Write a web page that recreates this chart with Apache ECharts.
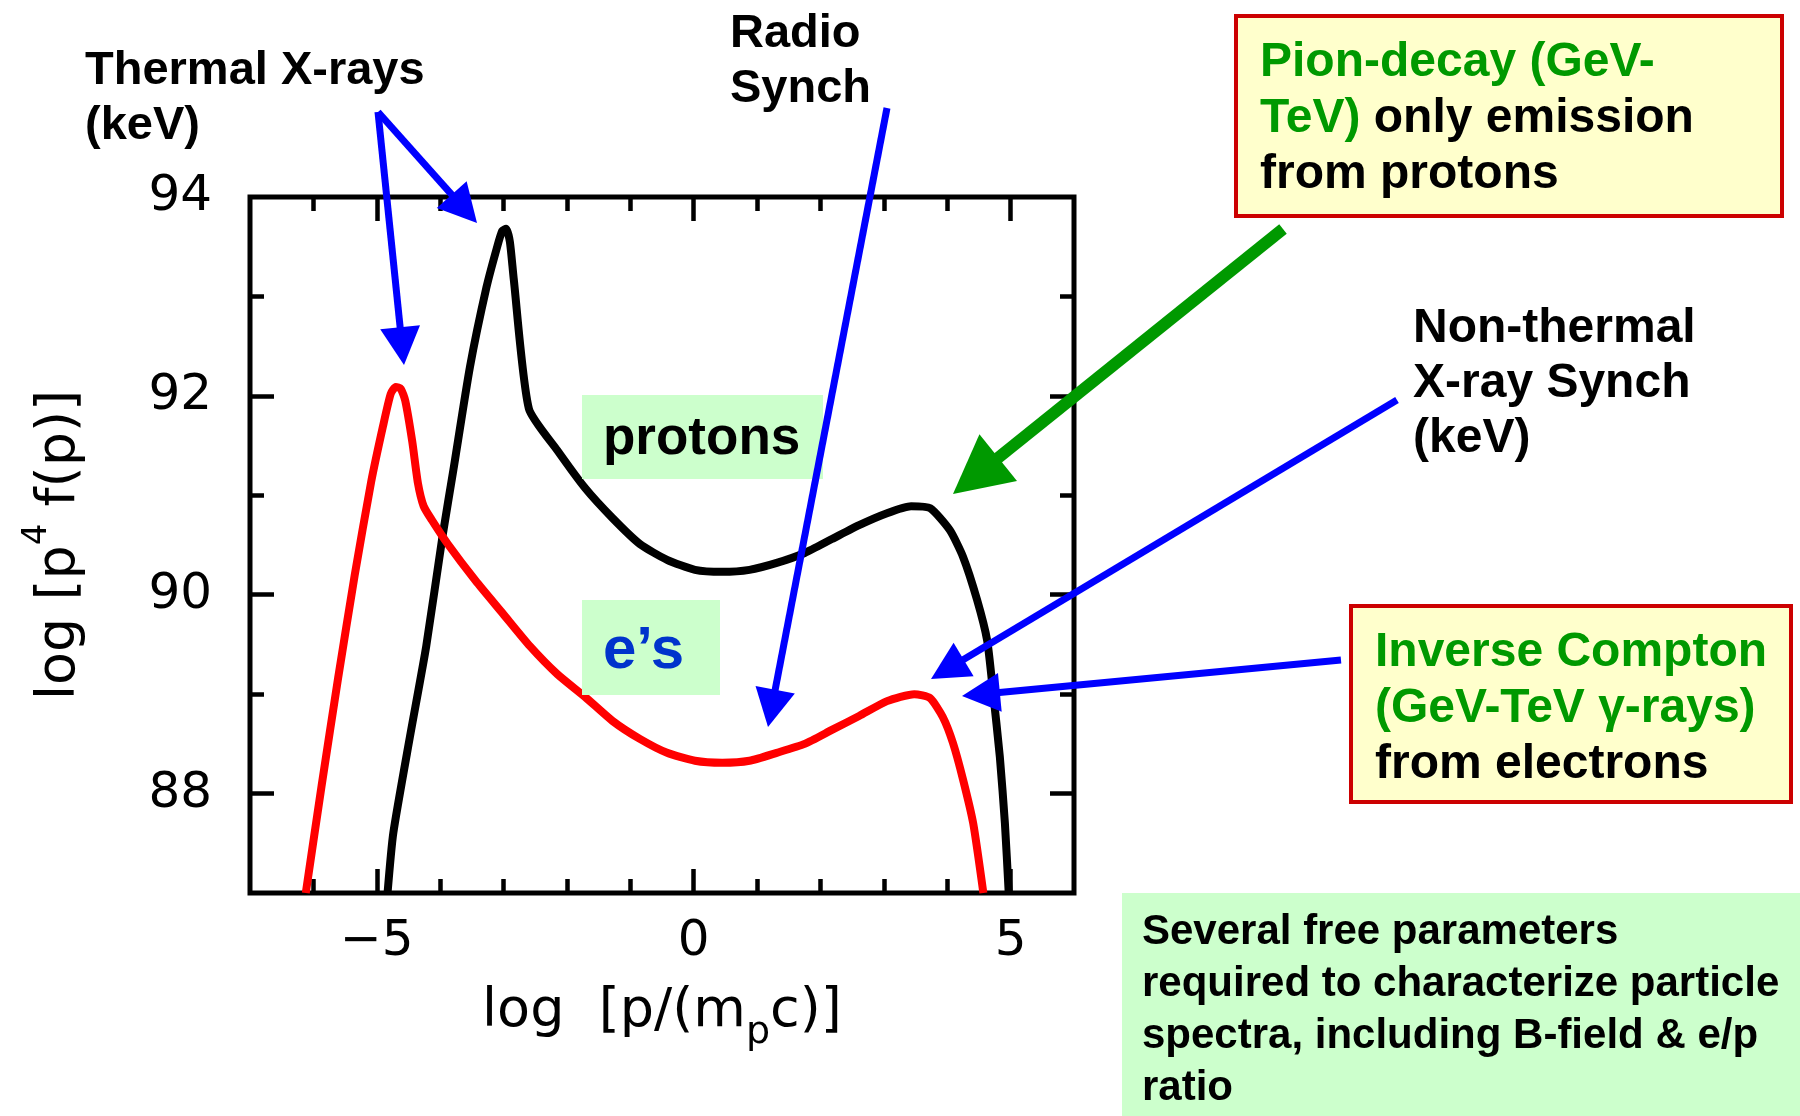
<!DOCTYPE html>
<html>
<head>
<meta charset="utf-8">
<title>Particle spectra: protons and electrons</title>
<script src="https://cdn.jsdelivr.net/npm/echarts@6/dist/echarts.min.js"></script>
<style>
  html, body { margin: 0; padding: 0; background: #fff; }
  #chart { width: 1800px; height: 1116px; }
</style>
</head>
<body>
<div id="chart"></div>
<script>
// Axis ticks and labels
const xMajorTicks = [-5, 0, 5];
const xMinorTicks = [-6, -4, -3, -2, -1, 1, 2, 3, 4];
const yMajorTicks = [88, 90, 92];
const yTickLabels = [88, 90, 92, 94];
const yMinorTicks = [89, 91, 93];

// Proton spectrum: log p/(m_p c) vs log p^4 f(p)
const protonX = [-4.83, -4.74, -4.48, -4.22, -3.96, -3.79, -3.53, -3.27, -3.10, -3.02, -2.96, -2.90, -2.84, -2.60,
  -2.15, -1.71, -1.28, -0.85, -0.42, 0.02, 0.45, 0.88, 1.31, 1.75, 2.18, 2.61, 3.05, 3.43, 3.73, 4.04, 4.25, 4.47,
  4.63, 4.72, 4.83, 4.91, 4.97];
const protonY = [87.0, 87.6, 88.56, 89.48, 90.6, 91.26, 92.29, 93.09, 93.50, 93.66, 93.68, 93.55, 93.18, 91.87,
  91.45, 91.07, 90.77, 90.51, 90.35, 90.25, 90.23, 90.25, 90.32, 90.42, 90.56, 90.70, 90.82, 90.89, 90.87, 90.65, 90.38, 89.95,
  89.54, 89.04, 88.37, 87.70, 87.0];

// Electron spectrum
const electronX = [-6.12, -5.87, -5.61, -5.35, -5.09, -4.90, -4.78, -4.70, -4.62, -4.55, -4.44, -4.35, -4.26, -4.13,
  -3.88, -3.44, -3.01, -2.58, -2.15, -1.71, -1.28, -0.85, -0.42, 0.02, 0.45, 0.88, 1.31, 1.75, 2.18, 2.61, 3.05, 3.48,
  3.73, 3.93, 4.09, 4.25, 4.41, 4.57];
const electronY = [87.0, 88.08, 89.16, 90.19, 91.13, 91.7, 92.02, 92.09, 92.07, 91.95, 91.54, 91.12, 90.89, 90.75,
  90.51, 90.14, 89.81, 89.48, 89.2, 88.97, 88.73, 88.55, 88.41, 88.33, 88.31, 88.33, 88.41, 88.5, 88.64, 88.78, 88.93, 89.0,
  88.96, 88.77, 88.51, 88.14, 87.70, 87.0];

const AXIS_FONT = 'DejaVu Sans';
const NOTE_FONT = '"Liberation Sans", Arial, Helvetica, sans-serif';
const BLUE = '#0000FF';
const GREEN = '#009900';

const chart = echarts.init(document.getElementById('chart'), null, { renderer: 'canvas' });

function xAxisDef(position, ticks, len, labels) {
  const ax = {
    type: 'value', min: -7, max: 6, position: position,
    axisLine: { show: false, onZero: false },
    splitLine: { show: false },
    axisTick: { show: true, inside: true, length: len, customValues: ticks, lineStyle: { color: '#000', width: 4.5 } },
    axisLabel: { show: false }
  };
  if (labels) {
    ax.axisLabel = {
      show: true, customValues: xMajorTicks, margin: 24,
      fontFamily: AXIS_FONT, fontSize: 50, color: '#000',
      formatter: v => (v < 0 ? '\u2212' + Math.abs(v) : String(v))
    };
    ax.name = 'log  [p/(m{sub|p}c)]';
    ax.nameLocation = 'middle';
    ax.nameGap = 77;
    ax.nameTextStyle = {
      fontFamily: AXIS_FONT, fontSize: 54, color: '#000', lineHeight: 80, verticalAlign: 'middle',
      rich: { sub: { fontFamily: AXIS_FONT, fontSize: 38, color: '#000', lineHeight: 34, verticalAlign: 'bottom' } }
    };
  }
  return ax;
}

function yAxisDef(position, ticks, len, labels) {
  const ax = {
    type: 'value', min: 87, max: 94, position: position,
    axisLine: { show: false, onZero: false },
    splitLine: { show: false },
    axisTick: { show: true, inside: true, length: len, customValues: ticks, lineStyle: { color: '#000', width: 4.5 } },
    axisLabel: { show: false }
  };
  if (labels) {
    ax.axisLabel = {
      show: true, customValues: yTickLabels, margin: 38, padding: [7, 0, 0, 0],
      fontFamily: AXIS_FONT, fontSize: 50, color: '#000'
    };
    ax.name = 'log [p{sup|4} f(p)]';
    ax.nameLocation = 'middle';
    ax.nameGap = 190;
    ax.nameTextStyle = {
      fontFamily: AXIS_FONT, fontSize: 54, color: '#000', lineHeight: 80, verticalAlign: 'middle',
      rich: { sup: { fontFamily: AXIS_FONT, fontSize: 34, color: '#000', lineHeight: 30, verticalAlign: 'top' } }
    };
  }
  return ax;
}

// Callout arrow: shaft plus triangular head ending at (x2, y2)
function arrow(x1, y1, x2, y2, color, width, headLen, headWidth) {
  const dx = x2 - x1, dy = y2 - y1;
  const len = Math.hypot(dx, dy);
  const ux = dx / len, uy = dy / len;
  const bx = x2 - ux * headLen, by = y2 - uy * headLen;
  const px = -uy, py = ux;
  return [
    { type: 'line', z: 30, shape: { x1: x1, y1: y1, x2: bx + ux * 3, y2: by + uy * 3 },
      style: { stroke: color, lineWidth: width, lineCap: 'butt' } },
    { type: 'polygon', z: 30, shape: { points: [[x2, y2], [bx + px * headWidth / 2, by + py * headWidth / 2], [bx - px * headWidth / 2, by - py * headWidth / 2]] },
      style: { fill: color } }
  ];
}

// Multi-line bold caption; top is the top of the first line box
function caption(x, top, text, fontSize, lineHeight, rich, z) {
  const r = {};
  Object.keys(rich || {}).forEach(k => {
    r[k] = Object.assign({ fontFamily: NOTE_FONT, fontWeight: 'bold', fontSize: fontSize, lineHeight: lineHeight }, rich[k]);
  });
  return {
    type: 'text', x: x, y: top, z: z || 25,
    style: {
      text: text, fill: '#000', fontFamily: NOTE_FONT, fontWeight: 'bold', fontSize: fontSize,
      lineHeight: lineHeight, align: 'left', verticalAlign: 'top', rich: r
    }
  };
}

const captionRich = {
  g: { fill: GREEN },
  k: { fill: '#000' }
};

const graphics = [].concat(
  // Curve labels
  { type: 'rect', z: 10, shape: { x: 582, y: 395, width: 241, height: 84 }, style: { fill: '#CCFFCC' } },
  { type: 'text', x: 603, y: 439, z: 12,
    style: { text: 'protons', fill: '#000', fontFamily: NOTE_FONT, fontWeight: 'bold', fontSize: 53, align: 'left', verticalAlign: 'middle' } },
  { type: 'rect', z: 10, shape: { x: 582, y: 600, width: 138, height: 95 }, style: { fill: '#CCFFCC' } },
  { type: 'text', x: 603, y: 651, z: 12,
    style: { text: 'e\u2019s', fill: '#0033CC', fontFamily: NOTE_FONT, fontWeight: 'bold', fontSize: 60, align: 'left', verticalAlign: 'middle' } },

  // Boxed notes
  { type: 'rect', z: 20, shape: { x: 1236, y: 16, width: 546, height: 200 }, style: { fill: '#FFFFCC', stroke: '#CC0000', lineWidth: 4 } },
  caption(1260, 35, '{g|Pion-decay (GeV-}\n{g|TeV)}{k| only emission}\n{k|from protons}', 48, 56, captionRich),
  { type: 'rect', z: 20, shape: { x: 1351, y: 606, width: 440, height: 196 }, style: { fill: '#FFFFCC', stroke: '#CC0000', lineWidth: 4 } },
  caption(1375, 625, '{g|Inverse Compton}\n{g|(GeV-TeV \u03B3-rays)}\n{k|from electrons}', 48, 56, captionRich),
  { type: 'rect', z: 20, shape: { x: 1122, y: 893, width: 678, height: 223 }, style: { fill: '#CCFFCC' } },
  caption(1142, 906, 'Several free parameters\nrequired to characterize particle\nspectra, including B-field & e/p\nratio', 42, 52, {}),

  // Free captions
  caption(85, 44, 'Thermal X-rays\n(keV)', 47, 55, {}),
  caption(730, 7, 'Radio\nSynch', 47, 55, {}),
  caption(1413, 301, 'Non-thermal\nX-ray Synch\n(keV)', 48, 55, {}),

  // Arrows
  arrow(378, 112, 477, 223, BLUE, 7, 38, 40),
  arrow(378, 112, 404, 365, BLUE, 7, 38, 40),
  arrow(887, 108, 768, 727, BLUE, 7, 38, 40),
  arrow(1283, 229, 953, 494, GREEN, 12, 58, 60),
  arrow(1397, 400, 931, 679, BLUE, 7, 38, 39),
  arrow(1341, 660, 962, 696, BLUE, 7, 38, 39)
);

const option = {
  animation: false,
  backgroundColor: '#fff',
  grid: {
    left: 250, top: 197, right: 726, bottom: 223,
    show: true, borderColor: '#000', borderWidth: 5, backgroundColor: 'transparent'
  },
  xAxis: [
    xAxisDef('bottom', xMajorTicks, 24, true),
    xAxisDef('bottom', xMinorTicks, 14, false),
    xAxisDef('top', xMajorTicks, 24, false),
    xAxisDef('top', xMinorTicks, 14, false)
  ],
  yAxis: [
    yAxisDef('left', yMajorTicks, 24, true),
    yAxisDef('left', yMinorTicks, 14, false),
    yAxisDef('right', yMajorTicks, 24, false),
    yAxisDef('right', yMinorTicks, 14, false)
  ],
  series: [
    {
      name: 'protons', type: 'line', xAxisIndex: 0, yAxisIndex: 0,
      data: protonX.map((x, i) => [x, protonY[i]]),
      showSymbol: false, smooth: 0.2, clip: true,
      lineStyle: { color: '#000', width: 8, join: 'round', cap: 'butt' }
    },
    {
      name: 'electrons', type: 'line', xAxisIndex: 0, yAxisIndex: 0,
      data: electronX.map((x, i) => [x, electronY[i]]),
      showSymbol: false, smooth: 0.2, clip: true,
      lineStyle: { color: '#FF0000', width: 8, join: 'round', cap: 'butt' }
    }
  ],
  graphic: { elements: graphics }
};

chart.setOption(option);
</script>
</body>
</html>
